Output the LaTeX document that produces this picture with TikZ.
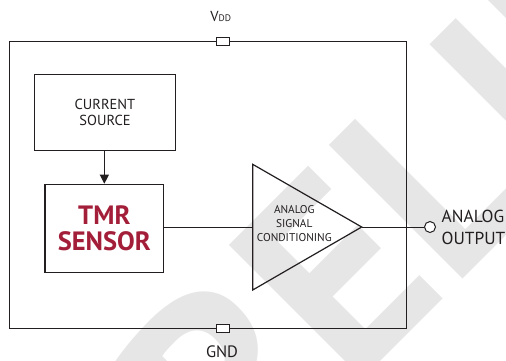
\documentclass[tikz,border=0pt]{standalone}
\usepackage{fontspec}
\setmainfont{PT Sans}
\usetikzlibrary{arrows.meta}
\definecolor{ink}{RGB}{35,31,32}
\definecolor{tmrred}{RGB}{163,30,56}
\definecolor{markgray}{RGB}{230,230,230}

\begin{document}
\begin{tikzpicture}[x=1pt,y=-1pt,
  wire/.style={draw=ink,line width=1pt},
  block/.style={draw=ink,line width=1.2pt,inner sep=0pt,align=center,text=ink},
  pin/.style={draw=ink,fill=white,line width=1pt,minimum width=13pt,minimum height=8pt,inner sep=0pt},
  lbl/.style={text=ink,inner sep=0pt},
  wm/.style={rotate=45,text=markgray,inner sep=0pt,font=\bfseries\fontsize{270}{270}\selectfont}]
\useasboundingbox (0,0) rectangle (506,360);
\fill[white] (0,0) rectangle (506,360);

% watermark
\begin{scope}
  \clip (0,0) rectangle (506,360);
  \node[wm, anchor=base west] (wm-b) at (451,291) {LIMINARY};
  \node[wm, anchor=base east] (wm-a) at (451,291) {PRE};
\end{scope}

% package outline and supply pins
\node[block, minimum width=397.2pt, minimum height=286.6pt] (chip) at (208.1,185) {};
\node[pin] (vdd) at (222.5,41.7) {};
\node[pin] (gnd) at (222.5,328.3) {};
\node[lbl, anchor=base, font=\fontsize{14.5}{14.5}\selectfont] (vdd-label) at (220.7,21) {V{\fontsize{9.5}{9.5}\selectfont DD}};
\node[lbl, anchor=base, font=\fontsize{16.5}{16.5}\selectfont] (gnd-label) at (222,357.7) {GND};

% blocks
\node[block, minimum width=140.6pt, minimum height=75.6pt, font=\fontsize{14.5}{16.7}\selectfont] (src) at (105,112.5) {CURRENT\\SOURCE};
\node[block, minimum width=118.7pt, minimum height=88.4pt, text=tmrred, font=\bfseries\fontsize{26.5}{25.7}\selectfont] (tmr) at (104.35,228.5) {TMR\\SENSOR};

% amplifier
\coordinate (amp-in) at (252.7,227);
\coordinate (amp-out) at (361.7,227);
\draw[draw=ink, line width=1.2pt, line join=miter] (252.7,164.3) -- (amp-out) -- (252.7,290) -- cycle;
\node[lbl, align=center, font=\fontsize{11.3}{14.3}\selectfont] (amp-label) at (294.3,223.5) {ANALOG\\SIGNAL\\CONDITIONING};

% output terminal
\node[circle, draw=ink, line width=1pt, fill=white, minimum size=11pt, inner sep=0pt] (out) at (430,227) {};
\node[lbl, anchor=west, align=left, font=\fontsize{17.4}{21.3}\selectfont] (out-label) at (441.5,227.5) {ANALOG\\OUTPUT};

% connections
\draw[wire, -{Triangle[width=9pt,length=9pt]}] (tmr.north |- src.south) -- (tmr.north);
\draw[wire] (amp-in -| tmr.east) -- (amp-in);
\draw[wire] (amp-out) -- (out);
\end{tikzpicture}
\end{document}
